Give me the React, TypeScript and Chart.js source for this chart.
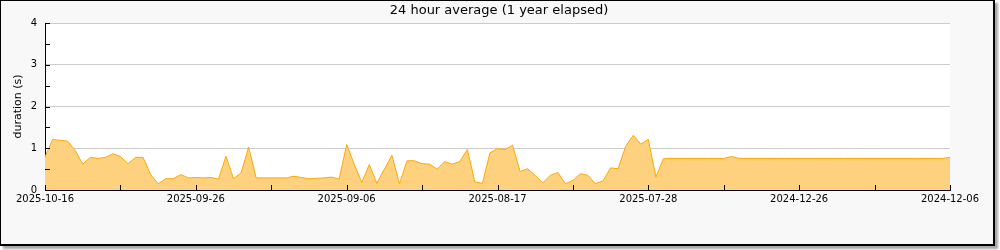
import React, { useEffect, useRef } from "react";
import { Chart, registerables } from "chart.js";

Chart.register(...registerables);

const chartTitle = "24 hour average (1 year elapsed)";
const yAxisTitle = "duration (s)";
const tickLabels = ["2025-10-16", "2025-09-26", "2025-09-06", "2025-08-17", "2025-07-28", "2024-12-26", "2024-12-06"];

const durations = [
  0.79, 1.21, 1.19, 1.17, 0.95, 0.62, 0.78, 0.76, 0.78, 0.87,
  0.80, 0.63, 0.78, 0.78, 0.37, 0.15, 0.27, 0.27, 0.37, 0.29,
  0.30, 0.29, 0.30, 0.26, 0.81, 0.27, 0.41, 1.03, 0.29, 0.29,
  0.29, 0.29, 0.29, 0.33, 0.30, 0.27, 0.28, 0.29, 0.31, 0.26,
  1.09, 0.62, 0.18, 0.61, 0.16, 0.50, 0.83, 0.15, 0.70, 0.70,
  0.63, 0.62, 0.50, 0.68, 0.62, 0.68, 0.97, 0.19, 0.16, 0.89,
  0.99, 0.97, 1.07, 0.44, 0.51, 0.35, 0.17, 0.35, 0.42, 0.15,
  0.23, 0.39, 0.35, 0.15, 0.22, 0.53, 0.51, 1.05, 1.31, 1.10,
  1.21, 0.31, 0.75, 0.755, 0.755, 0.755, 0.755, 0.755, 0.755, 0.755,
  0.755, 0.80, 0.76, 0.755, 0.755, 0.755, 0.755, 0.755, 0.755, 0.755,
  0.755, 0.755, 0.755, 0.755, 0.755, 0.755, 0.755, 0.755, 0.755, 0.755,
  0.755, 0.755, 0.755, 0.755, 0.755, 0.755, 0.755, 0.755, 0.755, 0.755,
  0.78,
];

const categories = durations.map((_, i) => i);

const FONT = "'DejaVu Sans', sans-serif";

export default function App() {
  const ref = useRef<HTMLCanvasElement | null>(null);

  useEffect(() => {
    document.body.style.margin = "0";
    const canvas = ref.current!;
    const framePlugin = {
      id: "framePlugin",
      beforeDraw(chart: any) {
        const { ctx, chartArea } = chart;
        ctx.save();
        ctx.fillStyle = "#ffffff";
        ctx.fillRect(chartArea.left, chartArea.top, chartArea.right - chartArea.left, chartArea.bottom - chartArea.top);
        ctx.restore();
      },
      afterDraw(chart: any) {
        const { ctx, chartArea, scales } = chart;
        ctx.save();
        ctx.strokeStyle = "#000";
        ctx.lineWidth = 1;
        ctx.beginPath();
        for (const t of scales.x.ticks) {
          const px = Math.round(scales.x.getPixelForValue(t.value)) + 0.5;
          ctx.moveTo(px, chartArea.bottom);
          ctx.lineTo(px, chartArea.bottom - 5);
        }
        for (const t of scales.y.ticks) {
          const py = Math.round(scales.y.getPixelForValue(t.value)) + 0.5;
          ctx.moveTo(chartArea.left, py);
          ctx.lineTo(chartArea.left + 5, py);
        }
        ctx.stroke();
        ctx.fillStyle = "#000";
        ctx.font = "13px " + FONT;
        ctx.textAlign = "center";
        ctx.textBaseline = "middle";
        ctx.fillText(chartTitle, 499, 11);
        ctx.restore();
      },
    };

    const chart = new Chart(canvas, {
      type: "line",
      data: {
        labels: categories,
        datasets: [
          {
            data: durations,
            borderColor: "rgb(255,168,0)",
            backgroundColor: "rgb(254,209,127)",
            borderWidth: 1,
            fill: "origin",
            pointRadius: 0,
            tension: 0,
          },
        ],
      },
      options: {
        animation: false,
        responsive: false,
        devicePixelRatio: 1,
        layout: { padding: { top: 23, right: 50, bottom: 0, left: 0 } },
        plugins: { legend: { display: false }, tooltip: { enabled: false }, title: { display: false } },
        scales: {
          x: {
            type: "category",
            grid: { display: false, drawTicks: false },
            border: { display: true, color: "#000", width: 1 },
            afterBuildTicks: (scale: any) => {
              scale.ticks = scale.ticks.filter((t: any) => t.value % 10 === 0);
            },
            afterFit: (scale: any) => {
              scale.height = 60;
            },
            ticks: {
              autoSkip: false,
              maxRotation: 0,
              padding: 3,
              color: "#000",
              font: { family: FONT, size: 10 },
              callback: (v: any) => (Number(v) % 20 === 0 ? tickLabels[Number(v) / 20] : ""),
            },
          },
          y: {
            min: 0,
            max: 4,
            z: 1,
            grid: {
              drawTicks: false,
              color: (c: any) => (c.tick && Number.isInteger(c.tick.value) && c.tick.value > 0 ? "#cccccc" : "rgba(0,0,0,0)"),
            },
            border: { display: true, color: "#000", width: 1 },
            afterFit: (scale: any) => {
              scale.width = 45;
            },
            title: {
              display: true,
              text: yAxisTitle,
              color: "#000",
              font: { family: FONT, size: 11 },
              padding: { top: 12, bottom: 0 },
            },
            ticks: {
              stepSize: 0.5,
              padding: 8,
              color: "#000",
              font: { family: FONT, size: 10 },
              callback: (v: any) => (Number.isInteger(Number(v)) ? String(v) : ""),
            },
          },
        },
      },
      plugins: [framePlugin],
    });
    return () => chart.destroy();
  }, []);

  return (
    <div style={{ position: "absolute", left: 0, top: 0, width: 1000, height: 250 }}>
      <div
        style={{
          position: "absolute",
          left: 0,
          top: 0,
          width: 995,
          height: 246,
          boxSizing: "border-box",
          border: "1px solid #000",
          borderRightWidth: 2,
          borderBottomWidth: 2,
          background: "#f8f8f8",
          boxShadow: "3px 3px 2px rgba(0,0,0,0.35)",
        }}
      />
      <canvas ref={ref} width={1000} height={250} style={{ position: "absolute", left: 0, top: 0 }} />
    </div>
  );
}
